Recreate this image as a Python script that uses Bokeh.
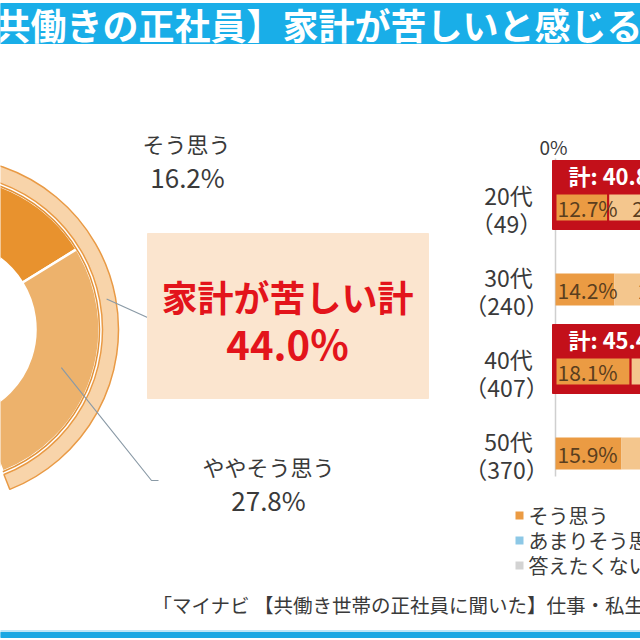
import numpy as np
from bokeh.plotting import figure
from bokeh.models import Range1d
from bokeh.embed import file_html
from bokeh.resources import INLINE
from bokeh.core.properties import value

# ---------------- data ----------------
title = "【共働きの正社員】家計が苦しいと感じるか"
donut_labels = ["そう思う", "ややそう思う"]
donut_values = [16.2, 27.8]
total_label = "家計が苦しい計"
total_value = 44.0
ages = ["20代", "30代", "40代", "50代"]
ns = [49, 240, 407, 370]
sou_omou = [12.7, 14.2, 18.1, 15.9]
yaya = [28.1, 24.6, 27.3, 26.2]
highlight = [True, False, True, False]
legend_labels = ["そう思う", "あまりそう思わない", "答えたくない"]
legend_colors = ["#EB9B43", "#8DC8E6", "#D3D3D3"]
source_note = "「マイナビ 【共働き世帯の正社員に聞いた】仕事・私生活の実態調査」"

# ---------------- layout ----------------
W = H = 640
FONT = value("Noto Sans CJK JP")
TXT = "#3A3A3A"


def Y(v):
    return H - v


p = figure(width=W, height=H, x_range=Range1d(0, W), y_range=Range1d(0, H),
           output_backend="svg", toolbar_location=None, min_border=0)
p.axis.visible = False
p.grid.visible = False
p.outline_line_color = None
p.background_fill_color = "white"

# banner
p.quad(left=0, right=W, top=Y(3), bottom=Y(43), color="#19AEE8")
p.text(x=[-42], y=[Y(23)], text=[title], text_font=FONT, text_font_size="36px",
       text_font_style="bold", text_color="white", text_baseline="middle", text_align="left")

# donut
cx, cy = -54, Y(329)
cum = np.concatenate([[0], np.cumsum(donut_values)]) * 3.6
starts = [np.radians(90 - cum[i + 1]) for i in range(len(donut_values))]
ends = [np.radians(90 - cum[i]) for i in range(len(donut_values))]
p.annular_wedge(x=cx, y=cy, inner_radius=89, outer_radius=153,
                start_angle=starts, end_angle=ends,
                fill_color=["#E8922E", "#EDB26C"], line_color="white", line_width=2.5)
p.arc(x=cx, y=cy, radius=153, start_angle=np.radians(90 - cum[-1]), end_angle=np.radians(90),
      line_color="#E39238", line_width=1.5)
tot_deg = total_value * 3.6
p.annular_wedge(x=cx, y=cy, inner_radius=156, outer_radius=172,
                start_angle=np.radians(90 - tot_deg), end_angle=np.radians(90),
                fill_color="#F8D4AA", line_color="#E99A45", line_width=1.5)

# leader lines
mid1 = np.radians(tot_deg / 2)
sx1, sy1 = cx + 163 * np.sin(mid1), cy + 163 * np.cos(mid1)
mid2 = np.radians((cum[1] + cum[2]) / 2)
sx2, sy2 = cx + 121 * np.sin(mid2), cy + 121 * np.cos(mid2)
p.line(x=[sx1, 147], y=[sy1, Y(317)], line_color="#8A9AA6", line_width=1.2)
p.line(x=[sx2, 151, 158], y=[sy2, Y(480), Y(480)], line_color="#8A9AA6", line_width=1.2)

# donut labels
p.text(x=[186, 268], y=[Y(142), Y(465)], text=donut_labels, text_font=FONT,
       text_font_size="22px", text_color=TXT, text_align="center", text_baseline="middle")
p.text(x=[187, 268], y=[Y(176), Y(499)], text=[f"{v:.1f}%" for v in donut_values],
       text_font=FONT, text_font_size="26px", text_color=TXT, text_align="center",
       text_baseline="middle")

# total box
p.quad(left=147, right=428, top=Y(233), bottom=Y(398), color="#FBE5CF")
p.text(x=[287], y=[Y(295)], text=[total_label], text_font=FONT, text_font_size="36px",
       text_font_style="bold", text_color="#E3141B", text_align="center", text_baseline="middle")
p.text(x=[287], y=[Y(342)], text=[f"{total_value:.1f}%"], text_font=FONT,
       text_font_size="40px", text_font_style="bold", text_color="#E3141B",
       text_align="center", text_baseline="middle")

# bar chart
X0, K = 555, 4.15
centers = [207 + 82 * i for i in range(len(ages))]
p.segment(x0=[X0], y0=[Y(158)], x1=[X0], y1=[Y(476)], line_color="#CFCFCF", line_width=1.5)
p.text(x=[X0 - 2], y=[Y(146)], text=["0%"], text_font=FONT, text_font_size="19px",
       text_color=TXT, text_align="center", text_baseline="middle")

for c, a, n, v1, v2, hl in zip(centers, ages, ns, sou_omou, yaya, highlight):
    p.text(x=[508], y=[Y(c - 13)], text=[a], text_font=FONT, text_font_size="23px",
           text_color=TXT, text_align="center", text_baseline="middle")
    p.text(x=[506], y=[Y(c + 15)], text=[f"（{n}）"], text_font=FONT, text_font_size="23px",
           text_color=TXT, text_align="center", text_baseline="middle")
    half = 14 if hl else 16
    if hl:
        p.quad(left=552, right=760, top=Y(c - 47), bottom=Y(c + 22), color="#C3101A")
    x1 = X0 + K * v1
    x2 = x1 + K * v2
    p.quad(left=[X0, x1], right=[x1, x2], top=Y(c - half), bottom=Y(c + half),
           fill_color=["#EB9B43", "#F4C68D"],
           line_color="#C3101A" if hl else None, line_width=2 if hl else 0)
    p.text(x=[X0 + 2, x1 + 24], y=[Y(c), Y(c)], text=[f"{v1:.1f}%", f"{v2:.1f}%"],
           text_font=FONT, text_font_size="21px", text_color="#5A3E1E",
           text_align="left", text_baseline="middle")
    if hl:
        p.text(x=[568], y=[Y(c - 33)], text=[f"計: {v1 + v2:.1f}%"], text_font=FONT,
               text_font_size="22px", text_font_style="bold", text_color="white",
               text_align="left", text_baseline="middle")

# legend
ly = [515, 540, 565]
p.quad(left=515, right=523, top=[Y(v - 4) for v in ly], bottom=[Y(v + 4) for v in ly],
       fill_color=legend_colors, line_color=None)
p.text(x=528, y=[Y(v) for v in ly], text=legend_labels, text_font=FONT,
       text_font_size="20px", text_color=TXT, text_align="left", text_baseline="middle")

# footer
p.text(x=[152], y=[Y(604)], text=[source_note], text_font=FONT, text_font_size="19.5px",
       text_color=TXT, text_align="left", text_baseline="middle")
p.quad(left=0, right=W, top=Y(630), bottom=Y(632), color="#BFE6F7")
p.quad(left=0, right=W, top=Y(632), bottom=Y(637), color="#1CA8E3")

open("out.html", "w").write(file_html(p, INLINE))
